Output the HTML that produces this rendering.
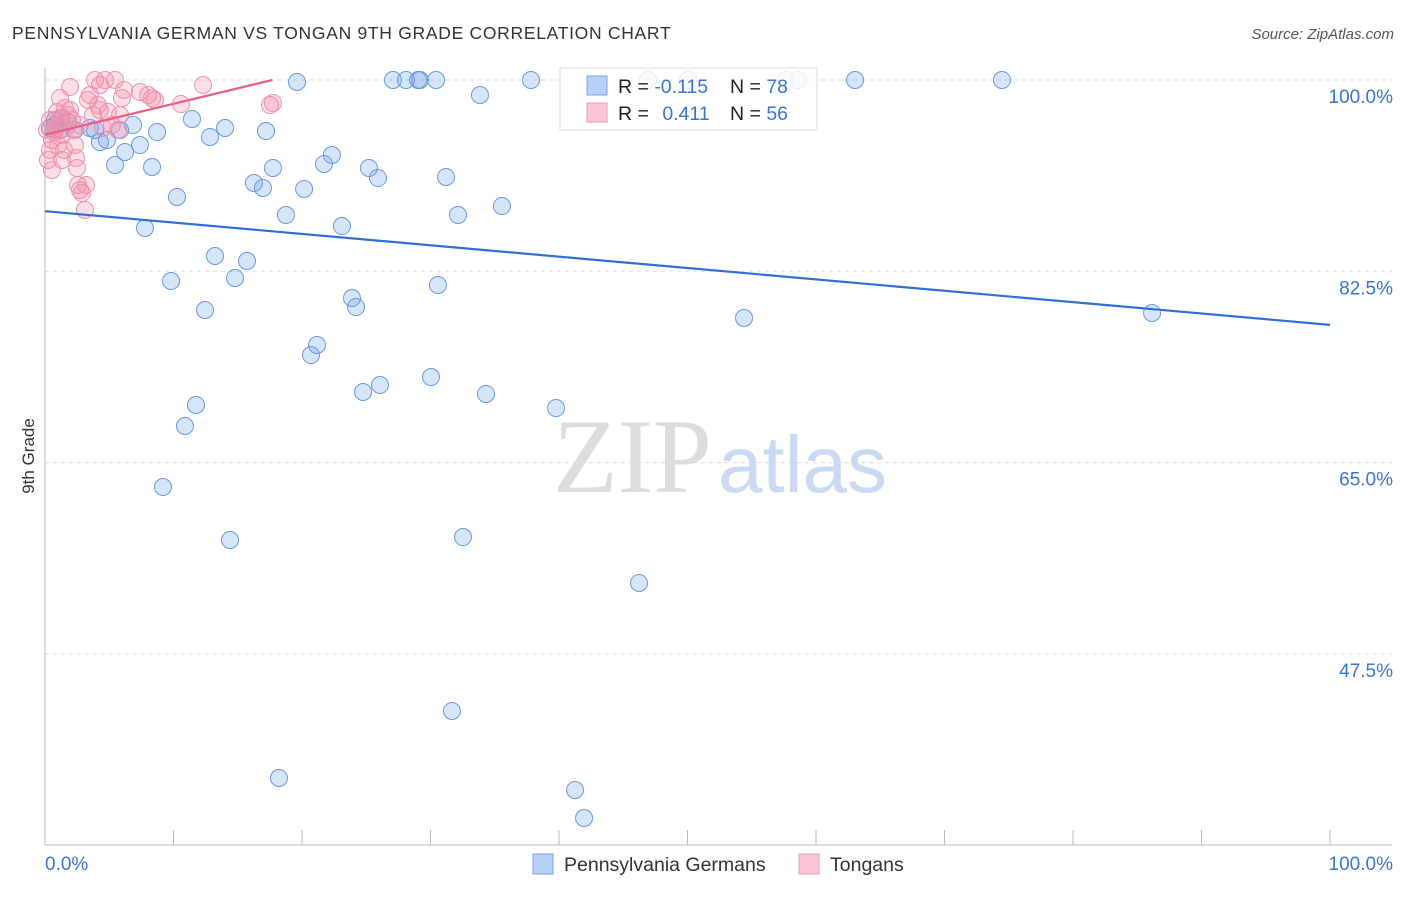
<!DOCTYPE html>
<html><head><meta charset="utf-8"><style>
body{margin:0;background:#fff;font-family:"Liberation Sans",sans-serif;}
</style></head><body>
<svg id="chart" width="1406" height="892" viewBox="0 0 1406 892" xmlns="http://www.w3.org/2000/svg" style="font-family:'Liberation Sans',sans-serif">
<text x="12" y="39" font-size="17.5" letter-spacing="0.7" fill="#333">PENNSYLVANIA GERMAN VS TONGAN 9TH GRADE CORRELATION CHART</text>
<text x="1394" y="39" font-size="15" fill="#555" font-style="italic" text-anchor="end">Source: ZipAtlas.com</text>
<text x="34" y="456" font-size="17" fill="#333" transform="rotate(-90 34 456)" text-anchor="middle">9th Grade</text>
<g id="grid"></g>
<g id="axes"></g>
<text x="553" y="492" font-size="106" fill="#ddd" font-family="Liberation Serif">ZIP</text>
<text x="718" y="492" font-size="80" fill="#c9daf2">atlas</text>
<g id="pts"></g>
<g id="lines"></g>
<g>
<rect x="560" y="68" width="257" height="62" fill="#fff" fill-opacity="0.85" stroke="#ddd"/>
<rect x="587" y="76" width="20" height="19" fill="#b8d0f5" stroke="#7aa6e6"/>
<rect x="587" y="103" width="20" height="19" fill="#fcc6d4" stroke="#ee9ab2"/>
<text x="618" y="93" font-size="19.5" fill="#222">R = <tspan fill="#3a75d0">-0.115</tspan></text>
<text x="730" y="93" font-size="19.5" fill="#222">N = <tspan fill="#3a75d0">78</tspan></text>
<text x="618" y="120" font-size="19.5" fill="#222">R = <tspan fill="#3a75d0" dx="8">0.411</tspan></text>
<text x="730" y="120" font-size="19.5" fill="#222">N = <tspan fill="#3a75d0">56</tspan></text>
</g>
<g>
<rect x="533" y="854" width="20" height="20" fill="#b8d0f5" stroke="#7aa6e6"/>
<text x="564" y="871" font-size="19.5" fill="#333">Pennsylvania Germans</text>
<rect x="799" y="854" width="20" height="20" fill="#fcc6d4" stroke="#ee9ab2"/>
<text x="830" y="871" font-size="19.5" fill="#333">Tongans</text>
</g>
</svg>
<script>
const yTicks=[100,82.5,65,47.5];
const yTickLabels=["100.0%","82.5%","65.0%","47.5%"];
const xTickLabels=["0.0%","100.0%"];
const bluePx=[[55,120],[62,118],[75,130],[90,128],[100,142],[107,140],[115,165],[120,130],[125,152],[133,125],[140,145],[145,228],[152,167],[157,132],[171,281],[177,197],[192,119],[196,405],[205,310],[210,137],[215,256],[225,128],[230,540],[235,278],[247,261],[254,183],[263,188],[266,131],[273,168],[279,778],[286,215],[297,82],[304,189],[311,355],[317,345],[324,164],[332,155],[342,226],[352,298],[356,307],[363,392],[369,168],[378,178],[380,385],[393,80],[406,80],[418,80],[420,80],[431,377],[436,80],[438,285],[446,177],[452,711],[458,215],[463,537],[480,95],[486,394],[502,206],[531,80],[556,408],[575,790],[584,818],[639,583],[648,80],[688,80],[744,318],[786,80],[798,80],[855,80],[1002,80],[1152,313],[163,487],[185,426],[55,125],[60,130],[68,122],[50,128],[95,130]];
const pinkPx=[[48,160],[50,150],[52,140],[55,130],[58,125],[60,118],[62,135],[65,108],[68,115],[70,87],[72,120],[74,130],[75,145],[76,158],[77,168],[78,185],[80,190],[82,193],[85,210],[86,185],[88,100],[90,95],[93,115],[95,80],[98,105],[100,85],[103,128],[105,80],[108,112],[112,125],[115,80],[118,130],[120,115],[122,98],[124,90],[140,92],[148,95],[152,98],[155,100],[181,104],[203,85],[270,105],[273,103],[60,98],[50,120],[54,132],[66,128],[47,130],[58,145],[64,150],[70,110],[62,160],[52,170],[80,125],[100,110],[57,112]];
const X0=45,X1=1330,Y100=80,PXPER=191.3/17.5;
const blueX=bluePx.map(p=>+((p[0]-X0)/(X1-X0)*100).toFixed(2));
const blueY=bluePx.map(p=>+(100-(p[1]-Y100)/PXPER).toFixed(2));
const pinkX=pinkPx.map(p=>+((p[0]-X0)/(X1-X0)*100).toFixed(2));
const pinkY=pinkPx.map(p=>+(100-(p[1]-Y100)/PXPER).toFixed(2));
const blueLine=[[0,88.0],[100,77.6]];
const pinkLine=[[0,95.0],[17.7,100]];
const xs=v=>X0+v/100*(X1-X0);
const ys=v=>Y100+(100-v)*PXPER;
const NS="http://www.w3.org/2000/svg";
function mk(t,a,p){const e=document.createElementNS(NS,t);for(const k in a)e.setAttribute(k,a[k]);p.appendChild(e);return e;}
const grid=document.getElementById('grid'),axes=document.getElementById('axes'),pts=document.getElementById('pts'),lines=document.getElementById('lines');
yTicks.forEach((t,i)=>{
 const l=mk('line',{x1:45,x2:1392,y1:ys(t),y2:ys(t),stroke:'#ddd','stroke-dasharray':'4,4'},grid);
 
 
 const tx=mk('text',{x:1393,y:ys(t)+23,'font-size':19,fill:'#3a75d0','text-anchor':'end'},axes);
 tx.textContent=yTickLabels[i];
 
 
});
mk('line',{x1:45,x2:45,y1:68,y2:845,stroke:'#bbb'},axes);
mk('line',{x1:45,x2:1392,y1:845,y2:845,stroke:'#bbb'},axes);
for(let i=0;i<=10;i++){const x=xs(i*10);const t=mk('line',{x1:x,x2:x,y1:830,y2:845,stroke:'#bbb'},axes);}
[[45,'start'],[1393,'end']].forEach((p,i)=>{const t=mk('text',{x:p[0],y:870,'font-size':19,fill:'#3a75d0','text-anchor':p[1]},axes);t.textContent=xTickLabels[i];});
blueX.forEach((v,i)=>{const c=mk('circle',{cx:xs(v),cy:ys(blueY[i]),r:8.5,fill:'rgba(110,160,235,0.28)',stroke:'#6a9ae0','stroke-width':1},pts);});
pinkX.forEach((v,i)=>{const c=mk('circle',{cx:xs(v),cy:ys(pinkY[i]),r:8.5,fill:'rgba(245,140,170,0.28)',stroke:'#ec93ad','stroke-width':1},pts);});
const bl=mk('line',{x1:xs(blueLine[0][0]),y1:ys(blueLine[0][1]),x2:xs(blueLine[1][0]),y2:ys(blueLine[1][1]),stroke:'#2f6fd6','stroke-width':2.2},lines);


const pl=mk('line',{x1:xs(pinkLine[0][0]),y1:ys(pinkLine[0][1]),x2:xs(pinkLine[1][0]),y2:ys(pinkLine[1][1]),stroke:'#e8608a','stroke-width':2.2},lines);


</script>
</body></html>
